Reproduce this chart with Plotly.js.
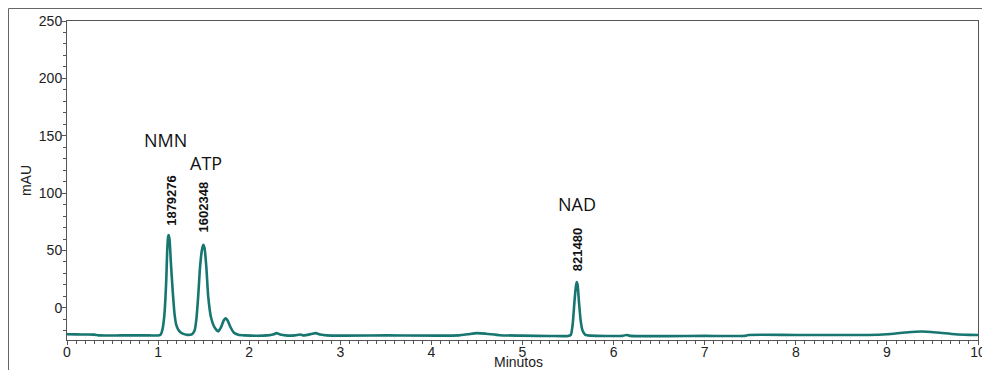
<!DOCTYPE html>
<html>
<head>
<meta charset="utf-8">
<script src="https://cdn.plot.ly/plotly-3.0.1.min.js"></script>
<style>html,body{margin:0;padding:0;background:#fff;}#chart{width:982px;height:370px;}</style>
</head>
<body>
<div id="chart"></div>
<script>
// Retention time (min) and absorbance (mAU)
const timeMin = [0, 0.1, 0.2, 0.3, 0.35, 0.6, 0.9, 1.0, 1.03, 1.05, 1.07, 1.09, 1.10, 1.11, 1.115, 1.125, 1.14, 1.16, 1.18, 1.20, 1.23, 1.27, 1.32, 1.37, 1.40, 1.42, 1.44, 1.46, 1.48, 1.495, 1.51, 1.53, 1.55, 1.58, 1.62, 1.66, 1.69, 1.72, 1.74, 1.76, 1.79, 1.83, 1.88, 1.95, 2.2, 2.27, 2.3, 2.34, 2.4, 2.5, 2.56, 2.6, 2.68, 2.73, 2.78, 2.85, 3.5, 4.3, 4.4, 4.5, 4.6, 4.75, 5.0, 5.3, 5.5, 5.53, 5.55, 5.57, 5.585, 5.595, 5.605, 5.62, 5.64, 5.66, 5.69, 5.75, 6.1, 6.14, 6.18, 7.0, 7.44, 7.48, 8.0, 8.8, 9.0, 9.2, 9.38, 9.55, 9.75, 9.9, 10.0];
const mAU = [-23, -23.1, -23.2, -23.3, -24, -24, -24, -24, -23, -18, -5, 25, 50, 62, 63.5, 60, 40, 15, -5, -15, -20, -22.5, -23.5, -23, -20, -10, 10, 35, 50, 55, 52, 35, 10, -8, -17, -20.5, -17, -11, -9, -10.5, -16, -21.5, -23.5, -24, -24, -23, -22, -23.2, -24, -24, -23.2, -24, -22.8, -22, -23.2, -24, -24, -24, -23, -22, -22.5, -23.8, -24.2, -24.5, -24.5, -23.5, -15, 5, 18, 22.5, 20, 5, -12, -20, -23.5, -24.2, -24.4, -23.6, -24.4, -24.4, -24.4, -23.6, -23.6, -23.6, -23, -21.5, -20.6, -21.5, -23, -23.5, -23.6];

// Peak labels
const peakNames = ["NMN", "ATP", "NAD"];
const peakTimes = [1.115, 1.495, 5.595];
const peakHeights = [63.5, 55, 22.5];
const peakAreas = ["1879276", "1602348", "821480"];

const xTicks = [0,1,2,3,4,5,6,7,8,9,10];
const yTicks = [0,50,100,150,200,250];

const trace = {
  x: timeMin, y: mAU, type: 'scatter', mode: 'lines',
  line: {color: '#17766f', width: 2.6, shape: 'spline', smoothing: 0.6},
  hoverinfo: 'x+y'
};

const annotations = [];
const areaShift = [7, 10, 9];
peakTimes.forEach((t, i) => {
  annotations.push({
    x: t + [0.03, 0.0, 0.01][i], y: peakHeights[i], xref: 'x', yref: 'y',
    text: '<b>' + peakAreas[i] + '</b>', textangle: -90, showarrow: false,
    xanchor: 'center', yanchor: 'bottom', yshift: areaShift[i],
    font: {family: 'Liberation Sans, Arial, sans-serif', size: 13, color: '#111'}
  });
});
const namePx = [[165, 140], [206, 163], [577, 204]];
peakNames.forEach((n, i) => {
  annotations.push({
    x: (namePx[i][0] - 67) / 911, y: (340 - namePx[i][1]) / 319, xref: 'paper', yref: 'paper',
    text: n, showarrow: false, xanchor: 'center', yanchor: 'middle',
    font: {family: 'Open Sans, Noto Sans, sans-serif', size: 18, color: '#111'}
  });
});
annotations.push({
  x: (518 - 67) / 911, y: (340 - 362) / 319, xref: 'paper', yref: 'paper',
  text: 'Minutos', showarrow: false, xanchor: 'center', yanchor: 'middle',
  font: {family: 'Liberation Sans, Arial, sans-serif', size: 14, color: '#222'}
});

const layout = {
  width: 982, height: 370,
  margin: {l: 67, r: 4, t: 21, b: 30},
  paper_bgcolor: '#fff', plot_bgcolor: '#fff',
  showlegend: false,
  font: {family: 'Liberation Sans, Arial, sans-serif', size: 14, color: '#222'},
  xaxis: {
    range: [0, 10], tickvals: xTicks, ticktext: xTicks.map(String),
    showgrid: false, zeroline: false,
    showline: true, linecolor: '#555', linewidth: 1, mirror: true,
    ticks: 'outside', ticklen: 4, tickcolor: '#555', tickwidth: 1,
    minor: {dtick: 0.1, ticks: 'outside', ticklen: 3, tickcolor: '#555', showgrid: false},
    tickfont: {size: 14, color: '#222'}, ticklabelstandoff: -5,
    ticklabeloverflow: 'allow', fixedrange: true
  },
  yaxis: {
    range: [-28, 250], tickvals: yTicks, ticktext: yTicks.map(String),
    showgrid: false, zeroline: false,
    showline: true, linecolor: '#555', linewidth: 1, mirror: true,
    ticks: 'outside', ticklen: 4, tickcolor: '#555', tickwidth: 1,
    minor: {dtick: 10, ticks: 'outside', ticklen: 3, tickcolor: '#555', showgrid: false},
    tickfont: {size: 14, color: '#222'}, ticklabelstandoff: -3,
    title: {text: 'mAU', font: {size: 14, color: '#222'}, standoff: 3},
    fixedrange: true
  },
  annotations: annotations,
  shapes: [
    {type: 'line', xref: 'paper', yref: 'paper', x0: (8.5-67)/911, x1: (8.5-67)/911, y0: (340-8.5)/319, y1: (340-372)/319, line: {color: '#666', width: 1}},
    {type: 'line', xref: 'paper', yref: 'paper', x0: (8.5-67)/911, x1: (984-67)/911, y0: (340-8.5)/319, y1: (340-8.5)/319, line: {color: '#666', width: 1}}
  ]
};

Plotly.newPlot('chart', [trace], layout, {displayModeBar: false, staticPlot: true});
</script>
</body>
</html>
